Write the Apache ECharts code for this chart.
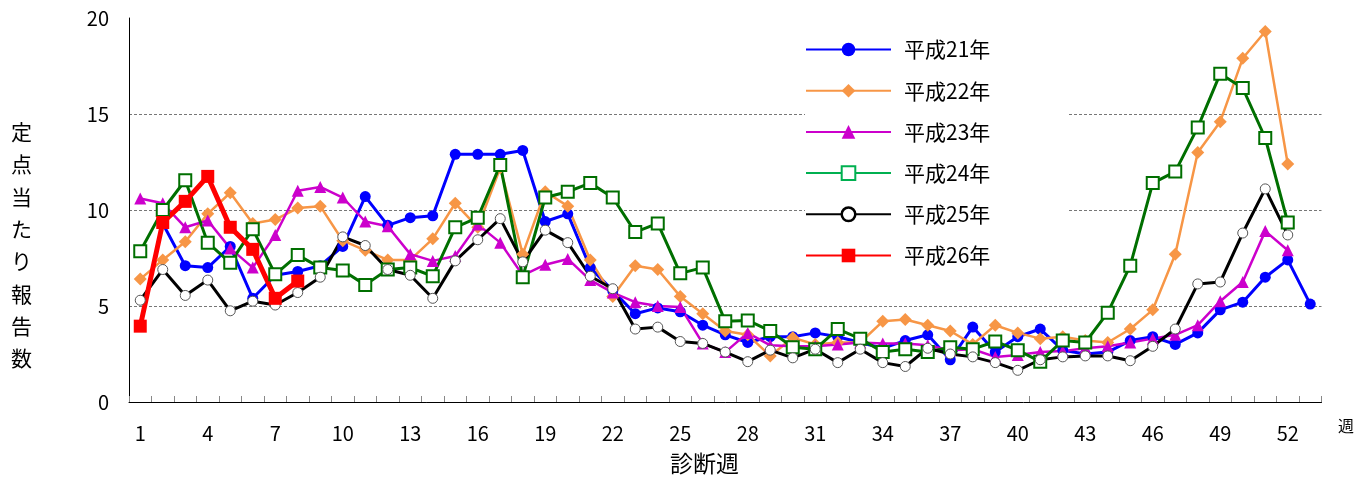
<!DOCTYPE html>
<html>
<head>
<meta charset="utf-8">
<script src="https://cdn.jsdelivr.net/npm/echarts@6/dist/echarts.min.js"></script>
<style>
html,body{margin:0;padding:0;background:#fff;}
#c{width:1366px;height:486px;}
</style>
</head>
<body>
<div id="c"></div>
<script>
const weeks = Array.from({length: 53}, (_, i) => String(i + 1));
const seriesNames = ['平成21年', '平成22年', '平成23年', '平成24年', '平成25年', '平成26年'];
const h21 = [null, 9.3, 7.1, 7.0, 8.1, 5.4, 6.6, 6.8, 7.1, 8.1, 10.7, 9.2, 9.6, 9.7, 12.9, 12.9, 12.9, 13.1, 9.4, 9.8, 7.0, 5.8, 4.6, 4.9, 4.7, 4.0, 3.5, 3.1, 3.4, 3.4, 3.6, 3.4, 3.1, 2.8, 3.2, 3.5, 2.2, 3.9, 2.6, 3.4, 3.8, 2.7, 2.5, 2.6, 3.2, 3.4, 3.0, 3.6, 4.8, 5.2, 6.5, 7.4, 5.1];
const h22 = [6.4, 7.4, 8.35, 9.8, 10.9, 9.3, 9.5, 10.1, 10.2, 8.4, 7.9, 7.4, 7.4, 8.5, 10.35, 9.1, 12.2, 7.7, 10.95, 10.2, 7.4, 5.5, 7.1, 6.9, 5.5, 4.6, 3.7, 3.5, 2.4, 3.35, 3.0, 3.1, 3.1, 4.2, 4.3, 4.0, 3.7, 3.0, 4.0, 3.6, 3.3, 3.4, 3.2, 3.1, 3.8, 4.8, 7.7, 13.0, 14.6, 17.9, 19.3, 12.4, null];
const h23 = [10.6, 10.35, 9.1, 9.45, 8.0, 7.0, 8.7, 11.0, 11.2, 10.65, 9.4, 9.15, 7.7, 7.35, 7.6, 9.25, 8.3, 6.6, 7.15, 7.45, 6.35, 5.7, 5.2, 5.0, 4.95, 3.05, 2.6, 3.6, 2.95, 2.9, 2.9, 3.0, 3.1, 3.05, 3.05, 2.95, 2.7, 2.75, 2.35, 2.45, 2.6, 2.65, 2.8, 2.9, 3.1, 3.3, 3.5, 4.0, 5.25, 6.25, 8.9, 7.9, null];
const h24 = [7.85, 10.0, 11.55, 8.3, 7.25, 9.0, 6.65, 7.65, 7.0, 6.85, 6.1, 6.9, 7.0, 6.55, 9.1, 9.6, 12.35, 6.5, 10.65, 10.95, 11.4, 10.65, 8.85, 9.3, 6.7, 7.0, 4.2, 4.25, 3.7, 2.85, 2.75, 3.8, 3.3, 2.6, 2.75, 2.6, 2.85, 2.75, 3.15, 2.7, 2.1, 3.2, 3.1, 4.65, 7.1, 11.4, 12.0, 14.3, 17.1, 16.35, 13.75, 9.35, null];
const h25 = [5.3, 6.9, 5.55, 6.35, 4.75, 5.25, 5.05, 5.7, 6.5, 8.6, 8.15, 6.9, 6.6, 5.4, 7.35, 8.45, 9.55, 7.3, 8.95, 8.3, 6.55, 5.9, 3.8, 3.9, 3.15, 3.05, 2.6, 2.1, 2.7, 2.3, 2.75, 2.05, 2.75, 2.05, 1.85, 2.8, 2.5, 2.35, 2.05, 1.65, 2.2, 2.35, 2.4, 2.4, 2.15, 2.9, 3.8, 6.15, 6.25, 8.8, 11.1, 8.7, null];
const h26 = [3.95, 9.35, 10.45, 11.75, 9.1, 7.95, 5.4, 6.3];
const yTicks = [0, 5, 10, 15, 20];

const FONT = '"Noto Sans CJK JP", "Noto Sans", sans-serif';
const chart = echarts.init(document.getElementById('c'));

function mkSeries(name, data, color, symbol, size, width, opts) {
  return Object.assign({
    name: name,
    type: 'line',
    data: data,
    symbol: symbol,
    symbolSize: size,
    connectNulls: false,
    lineStyle: {color: color, width: width},
    itemStyle: {color: color},
    emphasis: {disabled: true},
    animation: false
  }, opts || {});
}

chart.setOption({
  animation: false,
  grid: {left: 129, right: 44.5, top: 18, bottom: 84, containLabel: false},
  legend: {
    orient: 'vertical',
    left: 805,
    top: 31,
    padding: [8, 78, 10, 0],
    backgroundColor: '#ffffff',
    itemWidth: 85,
    itemHeight: 17,
    itemGap: 20.2,
    textStyle: {fontFamily: FONT, fontSize: 21, color: '#000', padding: [0, 0, 0, 8]},
    data: [
      {name: seriesNames[0]},
      {name: seriesNames[1]},
      {name: seriesNames[2]},
      {name: seriesNames[3], itemStyle: {borderColor: '#00b050', color: '#fff'}, lineStyle: {color: '#00b050'}},
      {name: seriesNames[4], itemStyle: {borderColor: '#000', borderWidth: 2.5, color: '#fff'}},
      {name: seriesNames[5]}
    ]
  },
  xAxis: {
    type: 'category',
    data: weeks,
    boundaryGap: true,
    axisLine: {show: true, lineStyle: {color: '#000', width: 1}},
    axisTick: {show: true, inside: true, length: 6, interval: 0, lineStyle: {color: '#888'}},
    axisLabel: {interval: 2, fontSize: 20, margin: 21, color: '#000', fontFamily: FONT},
    splitLine: {show: false}
  },
  yAxis: {
    type: 'value',
    min: yTicks[0],
    max: yTicks[yTicks.length - 1],
    interval: 5,
    axisLine: {show: true, lineStyle: {color: '#000', width: 1}},
    axisTick: {show: false},
    axisLabel: {fontSize: 20, margin: 20, color: '#000', fontFamily: FONT},
    splitLine: {show: true, lineStyle: {type: [3, 2], width: 1, color: ['transparent', '#777', '#777', '#777', 'transparent']}}
  },
  graphic: [
    {type: 'text', left: 11, top: 116, style: {text: '定\n点\n当\nた\nり\n報\n告\n数', font: '21px ' + FONT, lineHeight: 32.3, fill: '#000', align: 'center'}},
    {type: 'text', left: 670, top: 452, style: {text: '診断週', font: '23px ' + FONT, fill: '#000'}},
    {type: 'text', left: 1338, top: 418, style: {text: '週', font: '16px ' + FONT, fill: '#000'}}
  ],
  series: [
    mkSeries(seriesNames[0], h21, '#0000ff', 'circle', 11, 3),
    mkSeries(seriesNames[1], h22, '#f79646', 'diamond', 13, 2.5),
    mkSeries(seriesNames[2], h23, '#cc00cc', 'triangle', 12, 2.5),
    mkSeries(seriesNames[3], h24, '#006f00', 'rect', 12, 3, {itemStyle: {color: '#fff', borderColor: '#006f00', borderWidth: 2}}),
    mkSeries(seriesNames[4], h25, '#000000', 'circle', 10, 3, {itemStyle: {color: '#fff', borderColor: '#555', borderWidth: 1}}),
    mkSeries(seriesNames[5], h26, '#ff0000', 'rect', 13, 5)
  ]
});
</script>
</body>
</html>
